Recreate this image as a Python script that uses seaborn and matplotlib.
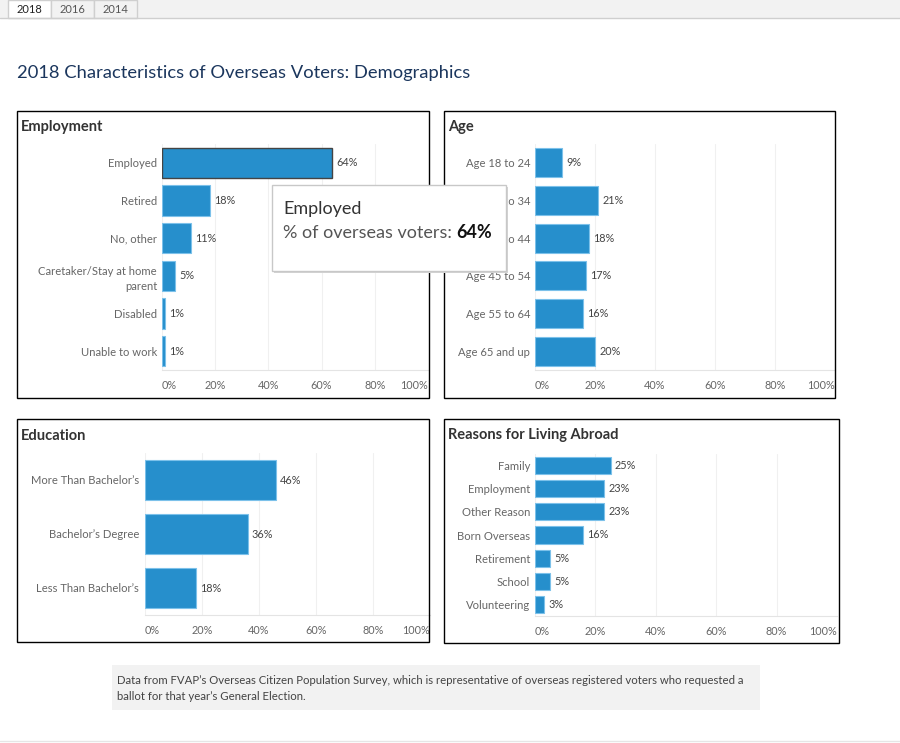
import matplotlib
matplotlib.use("Agg")
import matplotlib.pyplot as plt
import seaborn as sns
import pandas as pd
from matplotlib.patches import Rectangle

W, H = 900, 743

employment_labels = ["Employed", "Retired", "No, other", "Caretaker/Stay at home\nparent",
                     "Disabled", "Unable to work"]
employment_values = [64, 18, 11, 5, 1, 1]
age_labels = ["Age 18 to 24", "Age 25 to 34", "Age 35 to 44", "Age 45 to 54",
              "Age 55 to 64", "Age 65 and up"]
age_values = [9, 21, 18, 17, 16, 20]
education_labels = ["More Than Bachelor\u2019s", "Bachelor\u2019s Degree", "Less Than Bachelor\u2019s"]
education_values = [46, 36, 18]
reasons_labels = ["Family", "Employment", "Other Reason", "Born Overseas", "Retirement",
                  "School", "Volunteering"]
reasons_values = [25, 23, 23, 16, 5, 5, 3]
tick_values = [0, 20, 40, 60, 80, 100]
year_tabs = ["2018", "2016", "2014"]

BLUE = "#268fcc"
EDGE = "#7cc1ea"

sns.set_style("white")
plt.rcParams["font.family"] = ["Lato", "DejaVu Sans"]

fig = plt.figure(figsize=(W / 100, H / 100), dpi=100)


def axes_px(x0, y0, x1, y1):
    return fig.add_axes([x0 / W, 1 - y1 / H, (x1 - x0) / W, (y1 - y0) / H])


def draw_panel(ax, labels, values, bar_w, highlight=None, ypad=3.6):
    df = pd.DataFrame({"category": labels, "pct": values})
    sns.barplot(data=df, x="pct", y="category", orient="h", color=BLUE, saturation=1,
                width=bar_w, edgecolor=EDGE, linewidth=0.8, ax=ax)
    if highlight is not None:
        ax.patches[highlight].set_edgecolor("#444444")
        ax.patches[highlight].set_linewidth(1.0)
    ax.bar_label(ax.containers[0], labels=[f"{v}%" for v in values], padding=3,
                 fontsize=7.8, color="#444444")
    ax.set_xlim(0, 100)
    ax.set_xticks(tick_values)
    ax.set_xticklabels([f"{t}%" for t in tick_values])
    xl = ax.get_xticklabels()
    xl[0].set_ha("left")
    xl[-1].set_ha("right")
    ax.tick_params(axis="x", length=0, pad=7.5, labelsize=7.8, labelcolor="#666666")
    ax.tick_params(axis="y", length=0, pad=ypad, labelsize=8.1, labelcolor="#666666")
    for t in ax.get_yticklabels():
        t.set_linespacing(1.5)
    ax.set_xlabel("")
    ax.set_ylabel("")
    ax.grid(axis="x", color="#f0f0f0", linewidth=0.8)
    ax.set_axisbelow(True)
    for s in ["top", "right", "left"]:
        ax.spines[s].set_visible(False)
    ax.spines["bottom"].set_color("#e4e4e4")
    ax.spines["bottom"].set_linewidth(0.8)
    ax.patch.set_alpha(0)


ax_emp = axes_px(162, 144, 428, 370)
draw_panel(ax_emp, employment_labels, employment_values, 0.8, highlight=0)
ax_age = axes_px(535, 144, 835, 370)
draw_panel(ax_age, age_labels, age_values, 0.77)
ax_edu = axes_px(145, 453, 430, 615)
draw_panel(ax_edu, education_labels, education_values, 0.75, ypad=4.3)
ax_rea = axes_px(535, 454, 837, 616)
draw_panel(ax_rea, reasons_labels, reasons_values, 0.74)

# overlay in pixel coordinates for the page furniture
ov = fig.add_axes([0, 0, 1, 1], zorder=10)
ov.set_xlim(0, W)
ov.set_ylim(H, 0)
ov.axis("off")
ov.patch.set_alpha(0)

# tab strip
ov.add_patch(Rectangle((0, 0), W, 18, facecolor="#f2f2f2", edgecolor="none"))
ov.plot([0, W], [18, 18], color="#cfcfcf", lw=1)
tab_edges = [8, 51, 94, 137]
for i, year in enumerate(year_tabs):
    x0, x1 = tab_edges[i], tab_edges[i + 1]
    ov.add_patch(Rectangle((x0, 0), x1 - x0, 18, facecolor="white" if i == 0 else "#f2f2f2",
                           edgecolor="#cfcfcf", lw=1))
    ov.text((x0 + x1) / 2, 9.5, year, ha="center", va="center", fontsize=8,
            color="#222222" if i == 0 else "#555555")

ov.text(17, 73, "2018 Characteristics of Overseas Voters: Demographics", ha="left",
        va="center", fontsize=13.2, color="#1b365d")

# panel frames and titles
panels = [((17, 111, 429, 398), "Employment"), ((444, 111, 835, 398), "Age"),
          ((17, 419, 429, 642), "Education"), ((444, 419, 839, 643), "Reasons for Living Abroad")]
for (x0, y0, x1, y1), title in panels:
    ov.add_patch(Rectangle((x0, y0), x1 - x0, y1 - y0, facecolor="none", edgecolor="black", lw=1))
    ov.text(x0 + 4, y0 + 16.5, title, ha="left", va="center", fontsize=10.5,
            fontweight="bold", color="#333333")

# tooltip
ov.add_patch(Rectangle((274, 187), 234, 86, facecolor="#d4d4d4", edgecolor="none"))
ov.add_patch(Rectangle((272, 185), 234, 86, facecolor="white", edgecolor="#c8c8c8", lw=1))
ov.text(283, 209, "Employed", ha="left", va="center", fontsize=13, color="#333333")
t1 = ov.text(283, 233, "% of overseas voters: ", ha="left", va="center", fontsize=13,
             color="#555555")
ov.annotate("64%", xy=(1, 0.5), xycoords=t1, ha="left", va="center", fontsize=13,
            fontweight="bold", color="#111111")

# footer note
ov.add_patch(Rectangle((112, 665), 648, 45, facecolor="#f2f2f2", edgecolor="none"))
ov.text(117, 680, "Data from FVAP\u2019s Overseas Citizen Population Survey, which is representative "
        "of overseas registered voters who requested a", ha="left", va="center", fontsize=8.2,
        color="#444444")
ov.text(117, 696, "ballot for that year\u2019s General Election.", ha="left", va="center",
        fontsize=8.2, color="#444444")
ov.plot([0, W], [741, 741], color="#e6e6e6", lw=1)

fig.savefig("out.png", dpi=100)
